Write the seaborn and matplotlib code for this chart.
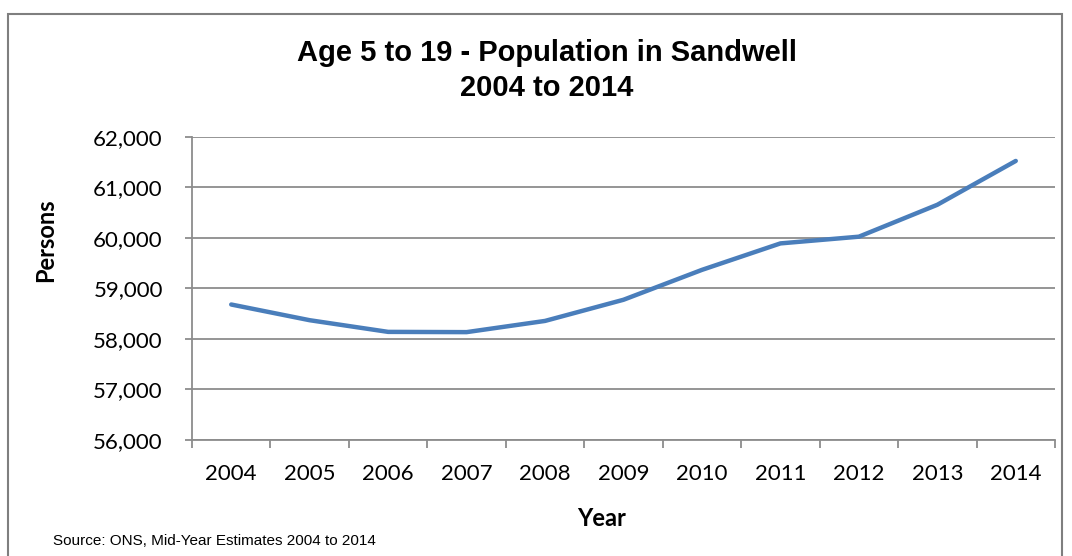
import numpy as np
import pandas as pd
import matplotlib
matplotlib.use("Agg")
import matplotlib.pyplot as plt
import seaborn as sns
from matplotlib.patches import Rectangle
from matplotlib.ticker import FuncFormatter, FixedLocator

years = ["2004", "2005", "2006", "2007", "2008", "2009",
         "2010", "2011", "2012", "2013", "2014"]
persons = [58683, 58372, 58141, 58136, 58358, 58777,
           59369, 59893, 60026, 60658, 61526]
y_ticks = [56000, 57000, 58000, 59000, 60000, 61000, 62000]

df = pd.DataFrame({"Year": years, "Persons": persons})
df["pos"] = range(len(df))

sns.set_style("white")
plt.rcParams["font.family"] = ["Lato", "DejaVu Sans"]
plt.rcParams["text.color"] = "black"
plt.rcParams["xtick.color"] = "black"
plt.rcParams["ytick.color"] = "black"

fig = plt.figure(figsize=(10.72, 5.56), dpi=100)
ax = fig.add_axes([192/1072, 1-440/556, (1055-192)/1072, (440-137)/556])

grey = "#8c8c8c"
sns.lineplot(data=df, x="pos", y="Persons", ax=ax, color="#4a7ebb",
             linewidth=3.2, solid_capstyle="round")

ax.set_xlim(-0.5, len(years) - 0.5)
ax.set_ylim(56000, 62000)
ax.yaxis.set_major_locator(FixedLocator(y_ticks))
ax.yaxis.set_major_formatter(FuncFormatter(lambda v, p: f"{int(v):,}"))
ax.grid(axis="y", color=grey, linewidth=1.3)
ax.set_axisbelow(True)

# category boundaries get the ticks, labels sit in the middle
ax.set_xticks(np.arange(-0.5, len(years), 1.0))
ax.set_xticklabels([])
ax.set_xticks(df["pos"], minor=True)
ax.set_xticklabels(years, minor=True)
ax.tick_params(axis="x", which="major", bottom=True, length=6, width=1.3,
               color=grey, direction="out")
ax.tick_params(axis="x", which="minor", bottom=True, length=0, pad=17,
               labelsize=16, labelcolor="black")
ax.tick_params(axis="y", left=True, length=5, width=1.3, color=grey,
               direction="out", labelsize=16, pad=16, labelcolor="black")

for s in ["top", "right"]:
    ax.spines[s].set_visible(False)
for s in ["left", "bottom"]:
    ax.spines[s].set_color(grey)
    ax.spines[s].set_linewidth(1.3)

ax.set_xlabel("")
ax.set_ylabel("")

fig.text(46/1072, 1-240/556, "Persons", rotation=90, fontsize=17,
         fontweight="bold", ha="center", va="center")
fig.text(602/1072, 1-519/556, "Year", fontsize=17, fontweight="bold",
         ha="center", va="center")
fig.text(547/1072, 1-53/556, "Age 5 to 19 - Population in Sandwell",
         fontsize=21, fontweight="bold", ha="center", va="center",
         family="Liberation Sans")
fig.text(547/1072, 1-88/556, "2004 to 2014", fontsize=21, fontweight="bold",
         ha="center", va="center", family="Liberation Sans")
fig.text(53/1072, 1-541/556, "Source: ONS, Mid-Year Estimates 2004 to 2014",
         fontsize=11, ha="left", va="center", family="Liberation Sans")

fig.patches.append(Rectangle((8/1072, -0.05), (1062-8)/1072, 1.05 - 14/556,
                             transform=fig.transFigure, fill=False,
                             edgecolor="#7f7f7f", linewidth=1.5))

fig.savefig("out.png", dpi=100)
